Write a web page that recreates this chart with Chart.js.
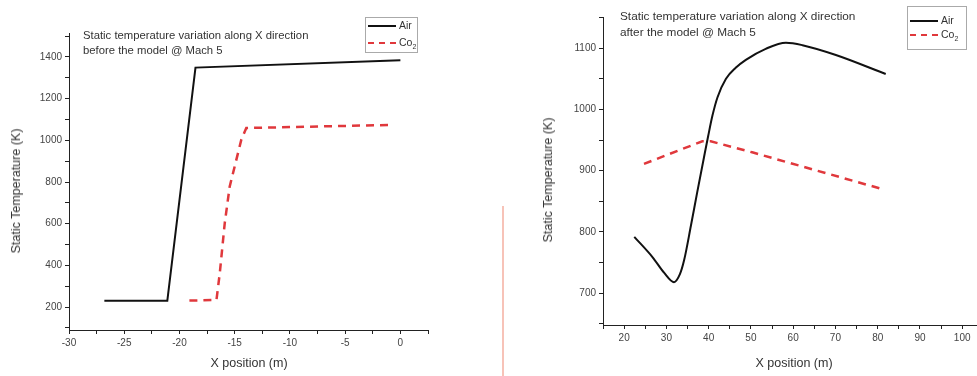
<!DOCTYPE html>
<html>
<head>
<meta charset="utf-8">
<script src="https://cdn.jsdelivr.net/npm/chart.js@4.4.0/dist/chart.umd.min.js"></script>
<style>
  body { margin: 0; background: #fff; font-family: "Liberation Sans", Arial, sans-serif; }
  #wrap { position: relative; width: 977px; height: 376px; overflow: hidden; background: #fff; }
  .box { position: absolute; top: 0; height: 376px; }
  .txt { position: absolute; color: #333; white-space: nowrap; }
  .ytitle { position: absolute; color: #333; font-size: 12.5px; white-space: nowrap; transform: translate(-50%, -50%) rotate(-90deg); }
  .xtitle { position: absolute; color: #333; font-size: 12.5px; white-space: nowrap; transform: translate(-50%, -50%); }
  .legend { position: absolute; border: 1px solid #aaa; background: #fff; font-size: 10.5px; color: #333; }
  .row { position: absolute; left: 2px; height: 12px; }
  .swatch { position: absolute; left: 0; top: 5px; width: 28px; height: 0; }
  .lab { position: absolute; left: 31px; top: -1px; }
  #sep { position: absolute; left: 502px; top: 206px; width: 2px; height: 170px; background: #f7c3b8; }
</style>
</head>
<body>
<div id="wrap">
  <div class="box" style="left:0; width:440px;"><canvas id="antes"></canvas></div>
  <div class="box" style="left:480px; width:497px;"><canvas id="despues"></canvas></div>
  <div id="sep"></div>

  <div class="txt" style="left:83px; top:28px; font-size:11.3px; line-height:15px;">Static temperature variation along X direction<br>before the model @ Mach 5</div>
  <div class="txt" style="left:620px; top:8px; font-size:11.8px; line-height:16px;">Static temperature variation along X direction<br>after the model @ Mach 5</div>

  <div class="ytitle" style="left:16px; top:191px;">Static Temperature (K)</div>
  <div class="ytitle" style="left:548px; top:180px;">Static Temperature (K)</div>
  <div class="xtitle" style="left:249px; top:363px;">X position (m)</div>
  <div class="xtitle" style="left:794px; top:363px;">X position (m)</div>

  <div class="legend" style="left:365px; top:17px; width:51px; height:34px;">
    <div class="row" style="top:2px;"><div class="swatch" style="border-top:2px solid #111;"></div><span class="lab">Air</span></div>
    <div class="row" style="top:19px;"><div class="swatch" style="border-top:2px dashed #e0383c;"></div><span class="lab">Co<sub style="font-size:7px;">2</sub></span></div>
  </div>
  <div class="legend" style="left:907px; top:6px; width:58px; height:42px;">
    <div class="row" style="top:8px;"><div class="swatch" style="border-top:2px solid #111;"></div><span class="lab">Air</span></div>
    <div class="row" style="top:22px;"><div class="swatch" style="border-top:2px dashed #e0383c;"></div><span class="lab">Co<sub style="font-size:7px;">2</sub></span></div>
  </div>
</div>

<script>
// antes del modelo
const xAireAntes = [-26.8, -21.1, -18.55, 0];
const tAireAntes = [230, 230, 1349, 1384];
const xCo2Antes = [-19.1, -16.65, -16.35, -15.9, -15.45, -15.0, -14.4, -13.95, -0.8];
const tCo2Antes = [231, 234, 363, 603, 779, 875, 1003, 1059, 1074];

// despues del modelo
const xAireDespues = [22.4, 26.7, 29.5, 31.8, 33.2, 34.2, 35.8, 37.3, 38.9, 39.9, 40.9, 42.1, 44.1, 46.4, 48.8, 53.5, 58.3, 62.2, 70.1, 81.9];
const tAireDespues = [792, 759, 733, 718, 731, 754, 810, 865, 922, 957, 990, 1020, 1050, 1068, 1081, 1099, 1109, 1105, 1089, 1058];
const xCo2Despues = [24.7, 29.1, 38.5, 40.5, 50.3, 81.6];
const tCo2Despues = [911, 923, 948, 948, 930, 869];

const rangoAntes = { xmin: -30, xmax: 2.5, xpaso: 2.5, xetiq: 5, ymin: 90, ymax: 1515, ypaso: 100, yetiq: 200 };
const rangoDespues = { xmin: 15, xmax: 103.5, xpaso: 5, xetiq: 10, ymin: 648, ymax: 1151, ypaso: 50, yetiq: 100 };

function puntos(xs, ys) {
  return xs.map((x, i) => ({ x: x, y: ys[i] }));
}

function eje(min, max, paso, etiq, tam) {
  return {
    type: 'linear',
    min: min,
    max: max,
    border: { display: true, color: '#222', width: 1 },
    grid: { drawOnChartArea: false, drawTicks: true, tickLength: 4, color: '#222' },
    ticks: {
      stepSize: paso,
      includeBounds: false,
      autoSkip: false,
      maxRotation: 0,
      padding: 3,
      color: '#444',
      font: { family: 'Liberation Sans', size: 10 },
      callback: v => (Math.abs(v / etiq - Math.round(v / etiq)) < 1e-6 ? v : '')
    },
    afterFit: tam
  };
}

function graficar(id, aire, co2, r, pad, yAncho, xAlto, curva) {
  new Chart(document.getElementById(id), {
    type: 'line',
    data: {
      datasets: [{
        label: 'Air',
        data: aire,
        borderColor: '#111',
        borderWidth: 2,
        pointRadius: 0,
        tension: curva ? 0.4 : 0,
        cubicInterpolationMode: curva ? 'monotone' : 'default'
      }, {
        label: 'Co2',
        data: co2,
        borderColor: '#e0383c',
        borderWidth: 2.5,
        borderDash: [8, 6],
        pointRadius: 0,
        tension: 0
      }]
    },
    options: {
      responsive: true,
      maintainAspectRatio: false,
      animation: false,
      layout: { padding: pad },
      plugins: { legend: { display: false }, tooltip: { enabled: false } },
      scales: {
        x: eje(r.xmin, r.xmax, r.xpaso, r.xetiq, s => { s.height = xAlto; }),
        y: eje(r.ymin, r.ymax, r.ypaso, r.yetiq, s => { s.width = yAncho; })
      }
    }
  });
}

graficar('antes', puntos(xAireAntes, tAireAntes), puntos(xCo2Antes, tCo2Antes), rangoAntes,
  { top: 33, right: 12, left: 0, bottom: 0 }, 69, 46, false);
graficar('despues', puntos(xAireDespues, tAireDespues), puntos(xCo2Despues, tCo2Despues), rangoDespues,
  { top: 17, right: 0, left: 0, bottom: 0 }, 123, 51, true);
</script>
</body>
</html>
